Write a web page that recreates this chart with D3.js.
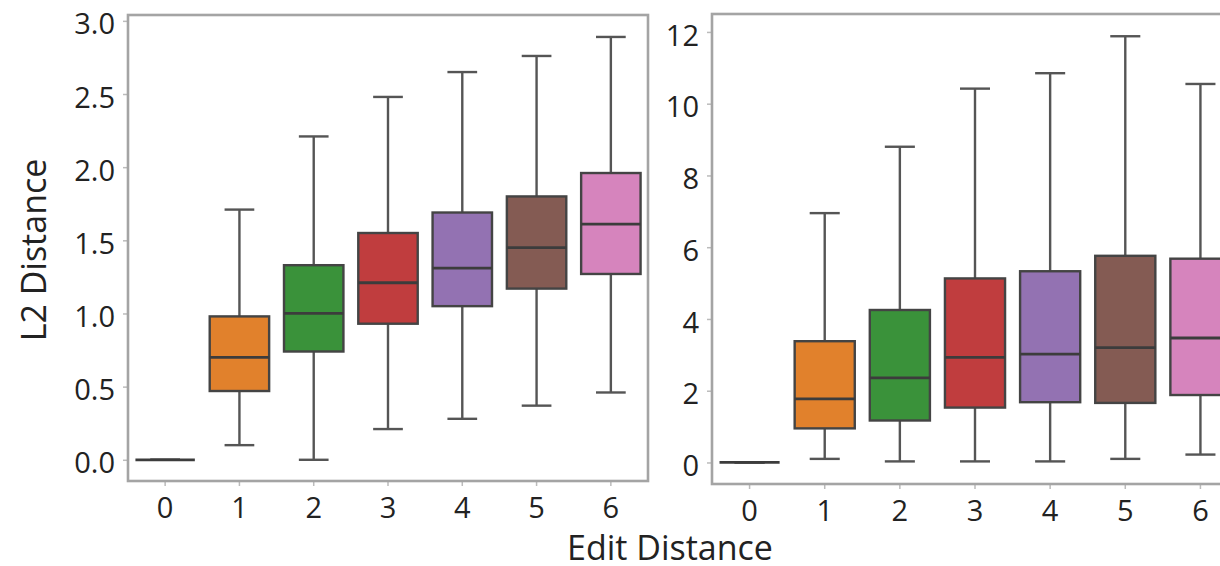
<!DOCTYPE html>
<html>
<head>
<meta charset="utf-8">
<script src="https://cdn.jsdelivr.net/npm/d3@7"></script>
<style>
  body { margin: 0; background: #fff; }
  text { font-family: "Open Sans", "Noto Sans", sans-serif; fill: #222; }
</style>
</head>
<body>
<div class="canvas"></div>
<script>
const width = 1220
const height = 566

const categories = ["0", "1", "2", "3", "4", "5", "6"]
const colors = ["#3274a1", "#e1812c", "#3a923a", "#c03d3e", "#9372b2", "#845b53", "#d684bd"]

// left panel: L2 distance
const leftLow    = [0, 0.10, 0.00, 0.21, 0.28, 0.37, 0.46]
const leftQ1     = [0, 0.47, 0.74, 0.93, 1.05, 1.17, 1.27]
const leftMedian = [0, 0.70, 1.00, 1.21, 1.31, 1.45, 1.61]
const leftQ3     = [0, 0.98, 1.33, 1.55, 1.69, 1.80, 1.96]
const leftHigh   = [0, 1.71, 2.21, 2.48, 2.65, 2.76, 2.89]
const leftTicks  = [0, 0.5, 1.0, 1.5, 2.0, 2.5, 3.0]

// right panel
const rightLow    = [0, 0.10, 0.03, 0.03, 0.03, 0.10, 0.22]
const rightQ1     = [0, 0.95, 1.17, 1.53, 1.68, 1.66, 1.88]
const rightMedian = [0, 1.77, 2.36, 2.93, 3.02, 3.20, 3.47]
const rightQ3     = [0, 3.38, 4.25, 5.13, 5.33, 5.76, 5.68]
const rightHigh   = [0, 6.95, 8.80, 10.42, 10.85, 11.88, 10.55]
const rightTicks  = [0, 2, 4, 6, 8, 10, 12]

const svg = d3.select(".canvas")
    .append("svg")
    .attr("width", width)
    .attr("height", height)

function drawPanel(opts) {
    const rows = categories.map((c, i) => ({
        cat: c, color: colors[i],
        lo: opts.low[i], q1: opts.q1[i], med: opts.median[i], q3: opts.q3[i], hi: opts.high[i]
    }))

    const x = d3.scaleBand().domain(categories).range([opts.left, opts.right]).padding(0)
    const y = d3.scaleLinear().domain(opts.domain).range([opts.bottom, opts.top])
    const boxW = x.bandwidth() * 0.8
    const capW = boxW / 2

    const g = svg.append("g")

    const boxes = g.selectAll("g.box")
        .data(rows)
        .enter()
        .append("g")
        .attr("class", "box")

    const cx = d => x(d.cat) + x.bandwidth() / 2

    boxes.append("line")
        .attr("x1", cx).attr("x2", cx)
        .attr("y1", d => y(d.hi)).attr("y2", d => y(d.q3))
        .attr("stroke", "#555").attr("stroke-width", 2.4)
    boxes.append("line")
        .attr("x1", cx).attr("x2", cx)
        .attr("y1", d => y(d.q1)).attr("y2", d => y(d.lo))
        .attr("stroke", "#555").attr("stroke-width", 2.4)

    boxes.selectAll("line.cap")
        .data(d => [d.hi, d.lo].map(v => ({ v, c: cx(d) })))
        .enter()
        .append("line")
        .attr("class", "cap")
        .attr("x1", d => d.c - capW / 2).attr("x2", d => d.c + capW / 2)
        .attr("y1", d => y(d.v)).attr("y2", d => y(d.v))
        .attr("stroke", "#555").attr("stroke-width", 2.4)

    boxes.append("rect")
        .attr("x", d => cx(d) - boxW / 2)
        .attr("width", boxW)
        .attr("y", d => y(d.q3))
        .attr("height", d => y(d.q1) - y(d.q3))
        .attr("fill", d => d.color)
        .attr("stroke", "#444")
        .attr("stroke-width", 2.4)

    boxes.append("line")
        .attr("x1", d => cx(d) - boxW / 2).attr("x2", d => cx(d) + boxW / 2)
        .attr("y1", d => y(d.med)).attr("y2", d => y(d.med))
        .attr("stroke", "#3c3c3c").attr("stroke-width", 2.8)

    // axes
    const xAxis = g.append("g")
        .attr("transform", `translate(0,${opts.bottom})`)
        .call(d3.axisBottom(x).tickSize(5).tickPadding(9))
    const yAxis = g.append("g")
        .attr("transform", `translate(${opts.left},0)`)
        .call(d3.axisLeft(y).tickValues(opts.ticks).tickFormat(opts.format).tickSize(5).tickPadding(8))

    for (const ax of [xAxis, yAxis]) {
        ax.select(".domain").remove()
        ax.selectAll(".tick line").attr("stroke", "#bbb").attr("stroke-width", 1.5)
        ax.selectAll(".tick text")
            .attr("font-family", "'Open Sans', 'Noto Sans', sans-serif")
            .attr("font-size", 29)
            .attr("fill", "#222")
    }
    yAxis.selectAll(".tick text").attr("dy", "0.45em")
    xAxis.selectAll(".tick text").attr("dy", "0.78em")

    // frame
    g.append("rect")
        .attr("x", opts.left).attr("y", opts.top)
        .attr("width", opts.right - opts.left)
        .attr("height", opts.bottom - opts.top)
        .attr("fill", "none")
        .attr("stroke", "#a4a4a4")
        .attr("stroke-width", 2.6)
}

drawPanel({
    left: 128, right: 648, top: 15, bottom: 481,
    domain: [-0.145, 3.04],
    low: leftLow, q1: leftQ1, median: leftMedian, q3: leftQ3, high: leftHigh,
    ticks: leftTicks, format: d3.format(".1f")
})

drawPanel({
    left: 712, right: 1238, top: 14, bottom: 484,
    domain: [-0.6, 12.5],
    low: rightLow, q1: rightQ1, median: rightMedian, q3: rightQ3, high: rightHigh,
    ticks: rightTicks, format: d3.format("d")
})

svg.append("text")
    .attr("x", 670)
    .attr("y", 560)
    .attr("text-anchor", "middle")
    .attr("font-size", 34)
    .text("Edit Distance")

svg.append("text")
    .attr("transform", "translate(46,250) rotate(-90)")
    .attr("text-anchor", "middle")
    .attr("font-size", 34)
    .text("L2 Distance")
</script>
</body>
</html>
